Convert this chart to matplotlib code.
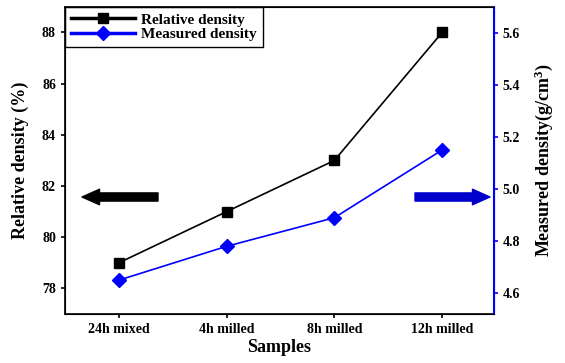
import matplotlib
matplotlib.use("Agg")
import matplotlib.pyplot as plt

# data
samples = ["24h mixed", "4h milled", "8h milled", "12h milled"]
rel_density = [79, 81, 83, 88]
meas_density = [4.65, 4.78, 4.89, 5.15]

plt.rcParams['font.family'] = ['Liberation Serif', 'DejaVu Serif']
plt.rcParams['font.weight'] = 'bold'
plt.rcParams['mathtext.fontset'] = 'custom'
plt.rcParams['mathtext.rm'] = 'Liberation Serif:bold'

fig = plt.figure(figsize=(5.65, 3.63), dpi=100)
ax = fig.add_axes([0.115, 0.135, 0.759, 0.846])
ax2 = ax.twinx()

x = list(range(len(samples)))
l1, = ax.plot(x, rel_density, color='black', marker='s', markersize=7, lw=1.2,
              label='Relative density')
l2, = ax2.plot(x, meas_density, color='blue', marker='D', markersize=7, lw=1.2,
               label='Measured density')

ax.set_xlim(-0.5, 3.48)
ax.set_ylim(77, 89)
ax.set_yticks([78, 80, 82, 84, 86, 88])
ax2.set_ylim(4.52, 5.7)
ax2.set_yticks([4.6, 4.8, 5.0, 5.2, 5.4, 5.6])
ax2.set_yticklabels(['4.6', '4.8', '5.0', '5.2', '5.4', '5.6'])

ax.set_xticks(x)
ax.set_xticklabels(samples, fontsize=10, fontweight='bold')
for t in ax.get_yticklabels() + ax2.get_yticklabels():
    t.set_fontsize(10)
    t.set_fontweight('bold')

ax.tick_params(direction='out', length=3, width=1.2)
ax2.tick_params(axis='y', direction='out', length=3, width=1.2, colors='blue',
                labelcolor='black')
ax2.spines['right'].set_color('blue')
for s in ['left', 'top', 'bottom']:
    ax.spines[s].set_linewidth(1.2)
ax2.spines['right'].set_linewidth(1.5)

ax.set_xlabel('Samples', fontsize=13, fontweight='bold', labelpad=2)
ax.set_ylabel('Relative density (%)', fontsize=13, fontweight='bold', labelpad=9)
ax2.set_ylabel('Measured density(g/cm$\\mathrm{^3}$)', fontsize=13,
               fontweight='bold', labelpad=9)

# arrows indicating which axis
astyle = 'simple,head_length=0.9,head_width=0.8,tail_width=0.42'
ax.annotate('', xy=(82, 166), xycoords='figure pixels', xytext=(158, 166),
            textcoords='figure pixels', annotation_clip=False,
            arrowprops=dict(arrowstyle=astyle, mutation_scale=14, color='black',
                            shrinkA=0, shrinkB=0))
ax.annotate('', xy=(490, 166), xycoords='figure pixels', xytext=(415, 166),
            textcoords='figure pixels', annotation_clip=False,
            arrowprops=dict(arrowstyle=astyle, mutation_scale=14, color='#0000cc',
                            shrinkA=0, shrinkB=0))

leg = ax.legend(handles=[l1, l2], loc='upper left', bbox_to_anchor=(0, 1),
                fancybox=False, edgecolor='black', framealpha=1,
                prop={'weight': 'bold', 'size': 11}, handlelength=4.2,
                borderaxespad=0, labelspacing=0.05, borderpad=0.4,
                handletextpad=0.4)
leg.get_frame().set_linewidth(1.0)
for h in leg.legend_handles:
    h.set_linewidth(2.5)

fig.savefig('out.png', dpi=100)
